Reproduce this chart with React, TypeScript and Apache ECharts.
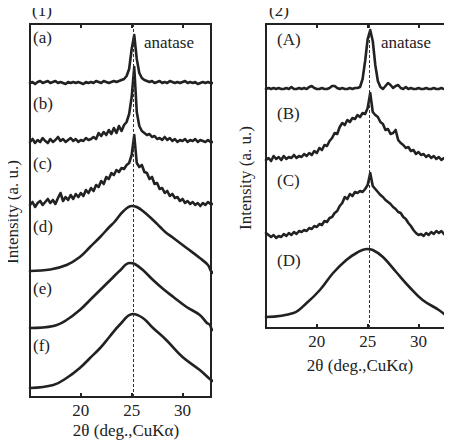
import React, { useEffect, useRef } from 'react';
import * as echarts from 'echarts';

// 2θ sampling of the scanned (noisy) patterns, 15°–33° in 0.25° steps
const scanStart = 15;
const scanStep = 0.25;

// Panel (1): relative intensities above each trace's baseline
const traceA1 = [
  0, 1, -1, 1, 2, 0, 1, 2, 0, 1, 2, 0, 1, 0, -1, 1,
  0, 1, 0, 1, 0, -1, 1, 0, 1, 0, 2, 1, 0, 2, 1, 0,
  1, 2, 1, 2, 3, 4, 7, 14, 34, 48, 24, 10, 5, 3, 2, 1,
  2, 0, 1, 2, 0, 1, 0, 2, 1, 0, 1, 0, 1, 2, 0, 1,
  0, 1, -1, 0, 1, 0, 1, 0, 0,
];
const traceB1 = [
  0, 3, -1, 2, 0, 4, 1, -1, 3, 0, 2, 5, 1, 3, 0, 2,
  4, 1, 3, 0, 2, 1, 4, 2, 3, 5, 3, 9, 6, 10, 7, 12,
  8, 14, 9, 16, 11, 17, 20, 28, 45, 75, 30, 16, 11, 9, 7, 8,
  5, 6, 3, 4, 2, 5, 2, 4, 1, 3, 0, 2, 1, 3, 0, 2,
  1, 3, 0, 2, 1, 0, 2, 0, 0,
];
const traceC1 = [
  0, 3, -2, 2, 4, 0, 3, 6, 2, 5, 1, 7, 12, 4, 8, 5,
  10, 6, 11, 8, 12, 9, 15, 12, 17, 14, 20, 18, 24, 21, 28, 26,
  32, 30, 35, 33, 37, 36, 40, 42, 50, 70, 42, 38, 40, 33, 32, 26,
  28, 21, 22, 16, 17, 12, 14, 9, 11, 7, 8, 4, 6, 2, 4, 1,
  3, 0, 2, -1, 2, 0, 3, 1, 1,
];
// Broad (amorphous) patterns, sampled at their own 2θ points
const thetaD1 = [15, 17, 18.6, 19.9, 20.9, 21.9, 22.8, 23.3, 24.2, 25.0, 25.5, 26.1, 27.1, 27.8, 28.3, 29.1, 30.4, 31.7, 32.5, 32.8, 33];
const traceD1 = [0, 1.5, 6, 14, 24, 34, 44, 49, 60, 65, 64, 60, 51, 44, 39, 33, 23, 13, 6, 0, -2];
const thetaE1 = [15, 17.3, 18.6, 19.9, 20.9, 21.9, 22.5, 23.0, 23.8, 24.8, 25.3, 26.1, 27.1, 28.1, 29.1, 30.4, 31.7, 32.4, 32.7, 32.85, 33];
const traceE1 = [0, 2, 8, 18, 28, 38, 44, 49, 57, 65, 64, 58, 48, 39, 31, 21, 13, 5, 3, -1, -2];
const thetaF1 = [15, 17.3, 18.6, 19.9, 20.9, 21.9, 22.8, 23.8, 25.1, 26.1, 27.1, 28.4, 30.0, 31.7, 32.8, 33];
const traceF1 = [0, 3, 10, 20, 30, 40, 51, 63, 74, 70, 60, 48, 31, 18, 8, 7];

// Panel (2)
const traceA2 = [
  0, 1, 0, 1, 0, 1, 0, 0, 1, 0, 2, 0, 0, 1, 0, 1,
  0, 2, 3, 1, 0, 0, 1, 0, 0, 1, 3, 3, 1, 0, 1, 0,
  0, 1, 0, 1, 1, 2, 10, 28, 50, 59, 48, 24, 8, 2, 0, 3,
  6, 4, 1, 3, 4, 1, 0, 2, 0, 1, 0, 0, 1, 0, 0, 1,
  0, 0, 1, 0, 0, 1, 0, 0, 0,
];
const traceB2 = [
  0, 2, -1, 4, 1, 3, 0, 4, 1, 3, 2, 5, 2, 4, 3, 6,
  4, 7, 5, 9, 7, 12, 10, 15, 14, 19, 22, 27, 26, 33, 37, 35,
  40, 38, 42, 41, 45, 43, 47, 46, 52, 67, 48, 45, 43, 38, 36, 30,
  31, 26, 27, 30, 20, 17, 15, 12, 13, 9, 10, 6, 8, 5, 6, 3,
  5, 2, 4, 1, 3, 0, 2, -1, 0,
];
const traceC2 = [
  0, -2, -4, -2, -5, -3, -4, -1, -3, 0, -2, 1, -1, 2, 1, 3,
  2, 5, 4, 7, 6, 9, 8, 12, 11, 15, 16, 20, 22, 27, 30, 36,
  34, 39, 37, 41, 40, 42, 41, 44, 48, 60, 47, 44, 41, 38, 36, 33,
  31, 29, 26, 24, 21, 20, 16, 14, 10, 7, 3, 0, -2, -1, -3, 0,
  -2, 1, -1, 2, 0, 2, -1, 2, 1,
];
const thetaD2 = [15, 17.7, 19.0, 20.3, 21.6, 22.9, 23.9, 24.9, 25.5, 26.5, 27.8, 29.1, 30.4, 32.0, 32.9, 33];
const traceD2 = [0, 4, 14, 27, 44, 57, 64, 68, 67, 60, 45, 30, 17, 7, 0, -1];

// Vertical offsets of the stacked patterns (a.u.)
const offsets1 = [314, 255, 192, 126, 69, 9];
const offsets2 = [239, 168, 95, 11];
const labels1 = ['(a)', '(b)', '(c)', '(d)', '(e)', '(f)'];
const labels2 = ['(A)', '(B)', '(C)', '(D)'];

const anatasePeak = 25.2;
const tickValues = [20, 25, 30];

const FONT = '"Liberation Serif", "Times New Roman", serif';
const INK = '#222';

function scanPairs(values: number[], offset: number) {
  return values.map((v, i) => [scanStart + i * scanStep, v + offset]);
}
function pairs(theta: number[], values: number[], offset: number) {
  return theta.map((t, i) => [t, values[i] + offset]);
}

export default function App() {
  const ref = useRef<HTMLDivElement>(null);

  useEffect(() => {
    if (!ref.current) return;
    const chart = echarts.init(ref.current, undefined, { renderer: 'svg' });

    const xBottom = (gridIndex: number, max: number) => ({
      type: 'value', gridIndex, min: 15, max, position: 'bottom',
      axisLine: { show: false },
      splitLine: { show: false },
      axisTick: { show: true, inside: true, length: 4, customValues: tickValues, lineStyle: { color: INK, width: 2 } },
      axisLabel: { show: true, customValues: tickValues, margin: 5, fontFamily: FONT, fontSize: 17, color: INK },
    });
    const xTop = (gridIndex: number, max: number) => ({
      type: 'value', gridIndex, min: 15, max, position: 'top',
      axisLine: { show: false },
      splitLine: { show: false },
      axisTick: { show: true, inside: true, length: 4, customValues: tickValues, lineStyle: { color: INK, width: 2 } },
      axisLabel: { show: false },
    });
    const yAx = (gridIndex: number, max: number) => ({
      type: 'value', gridIndex, min: 0, max,
      axisLine: { show: false }, axisTick: { show: false },
      axisLabel: { show: false }, splitLine: { show: false },
    });

    const lineSeries = (data: number[][], xAxisIndex: number, yAxisIndex: number, smooth: number | boolean, extra: any = {}) => ({
      type: 'line', data, xAxisIndex, yAxisIndex, smooth,
      showSymbol: false, symbol: 'none', silent: true,
      lineStyle: { color: INK, width: 2.6, join: 'round', cap: 'round' },
      ...extra,
    });

    const peakMark = {
      markLine: {
        silent: true, symbol: ['none', 'none'], label: { show: false },
        lineStyle: { color: '#333', width: 1, type: [3, 2] },
        data: [{ xAxis: anatasePeak }],
      },
    };

    const series: any[] = [
      lineSeries(scanPairs(traceA1, offsets1[0]), 0, 0, false, peakMark),
      lineSeries(scanPairs(traceB1, offsets1[1]), 0, 0, false),
      lineSeries(scanPairs(traceC1, offsets1[2]), 0, 0, false),
      lineSeries(pairs(thetaD1, traceD1, offsets1[3]), 0, 0, 0.4),
      lineSeries(pairs(thetaE1, traceE1, offsets1[4]), 0, 0, 0.4),
      lineSeries(pairs(thetaF1, traceF1, offsets1[5]), 0, 0, 0.4),
      lineSeries(scanPairs(traceA2, offsets2[0]), 2, 1, false, peakMark),
      lineSeries(scanPairs(traceB2, offsets2[1]), 2, 1, false),
      lineSeries(scanPairs(traceC2, offsets2[2]), 2, 1, false),
      lineSeries(pairs(thetaD2, traceD2, offsets2[3]), 2, 1, 0.4),
    ];

    const text = (t: string, x: number, y: number, extra: any = {}) => ({
      type: 'text', x, y,
      style: { text: t, fontFamily: FONT, fontSize: 17, fill: INK, textAlign: 'left', textVerticalAlign: 'middle', ...extra },
    });

    const labelY1 = [37, 103, 163, 226, 288, 345];
    const labelY2 = [39, 113, 180, 260];

    const graphic: any[] = [
      text('(1)', 32, 10.5),
      text('(2)', 269, 10.5),
      text('anatase', 144, 42),
      text('anatase', 381, 42),
      ...labels1.map((l, i) => text(l, 33, labelY1[i])),
      ...labels2.map((l, i) => text(l, 277, labelY2[i])),
      text('2θ (deg.,CuKα)', 126, 430, { textAlign: 'center' }),
      text('2θ (deg.,CuKα)', 360, 365, { textAlign: 'center' }),
      { type: 'text', x: 12, y: 212, rotation: Math.PI / 2,
        style: { text: 'Intensity (a. u.)', fontFamily: FONT, fontSize: 17, fill: INK, textAlign: 'center', textVerticalAlign: 'middle' } },
      { type: 'text', x: 245, y: 178, rotation: Math.PI / 2,
        style: { text: 'Intensity (a. u.)', fontFamily: FONT, fontSize: 17, fill: INK, textAlign: 'center', textVerticalAlign: 'middle' } },
    ];

    chart.setOption({
      animation: false,
      backgroundColor: '#fff',
      grid: [
        { left: 30, top: 24, width: 181, height: 373, show: true, borderColor: INK, borderWidth: 2, backgroundColor: 'transparent' },
        { left: 266, top: 24, width: 182, height: 304, show: true, borderColor: INK, borderWidth: 2, backgroundColor: 'transparent' },
      ],
      xAxis: [xBottom(0, 32.8), xTop(0, 32.8), xBottom(1, 32.9), xTop(1, 32.9)],
      yAxis: [yAx(0, 373), yAx(1, 304)],
      series,
      graphic,
    } as any);

    return () => chart.dispose();
  }, []);

  return <div ref={ref} style={{ width: 452, height: 442, marginLeft: -8, marginTop: -8 }} />;
}
